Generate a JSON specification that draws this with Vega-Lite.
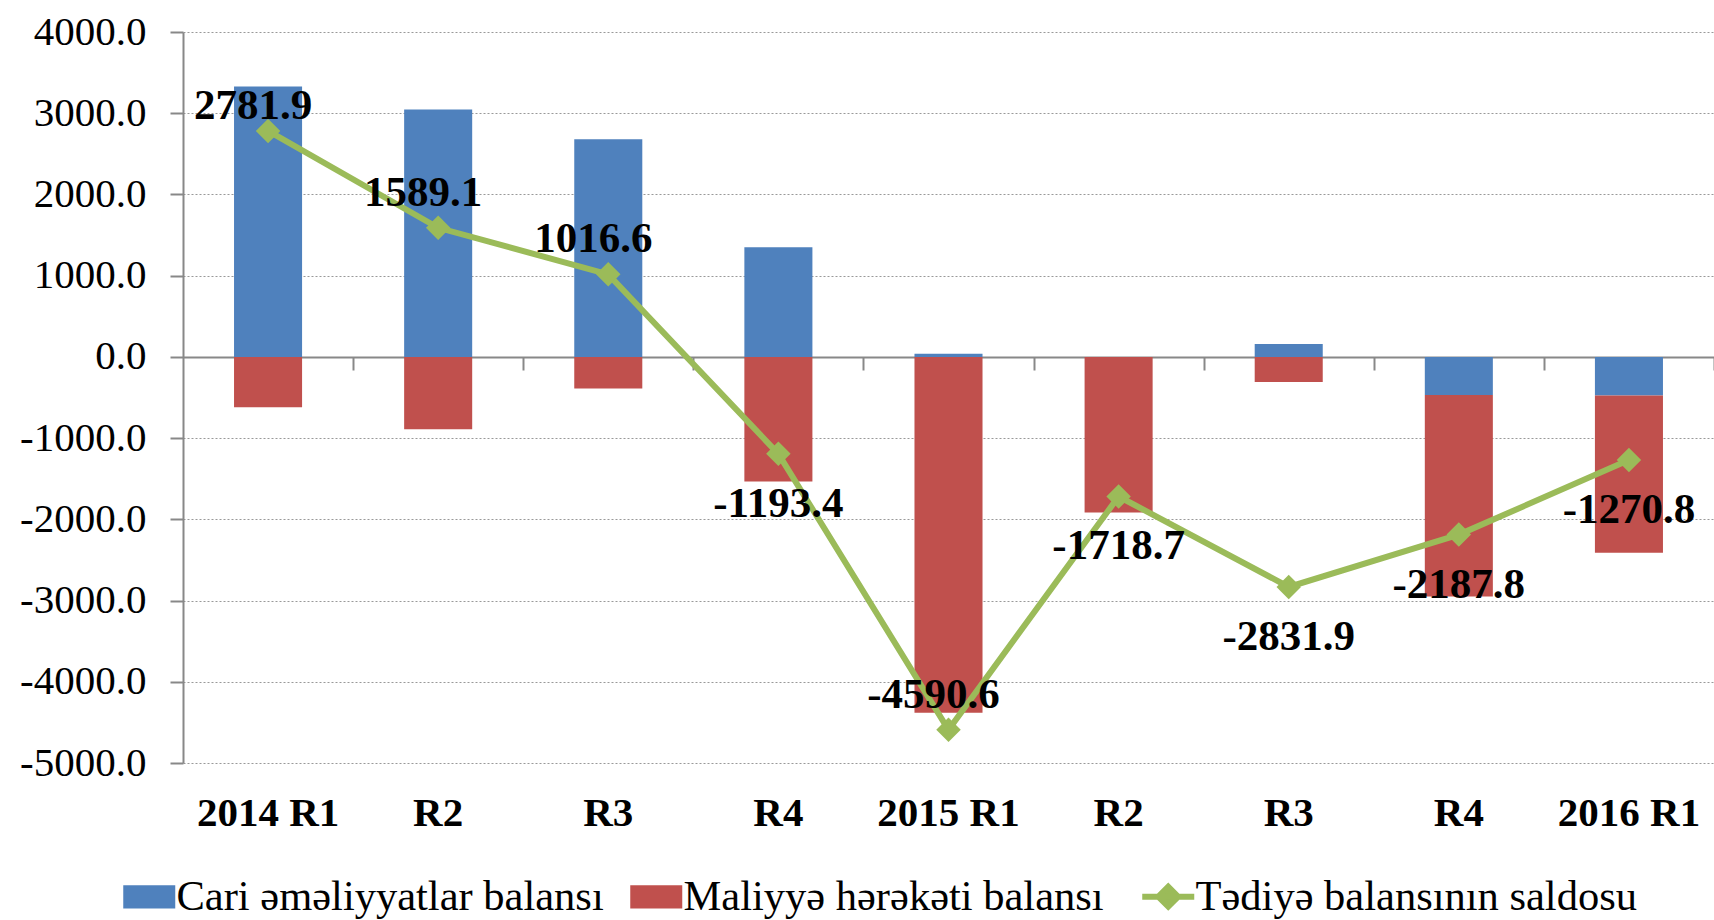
{
  "$schema": "https://vega.github.io/schema/vega-lite/v6.json",
  "autosize": {"type": "none"},
  "width": 1531,
  "height": 731,
  "padding": {"left": 183, "top": 32, "right": 0, "bottom": 157},
  "background": "white",
  "config": {
    "view": {"stroke": null},
    "font": "Liberation Serif",
    "locale": {"number": {"decimal": ".", "thousands": ",", "grouping": [3], "currency": ["$", ""], "minus": "-"}}
  },
  "datasets": {
    "bars": [
      {"q": "2014 R1", "series": "Cari əməliyyatlar balansı", "value": 3330},
      {"q": "2014 R2", "series": "Cari əməliyyatlar balansı", "value": 3045},
      {"q": "2014 R3", "series": "Cari əməliyyatlar balansı", "value": 2680},
      {"q": "2014 R4", "series": "Cari əməliyyatlar balansı", "value": 1350},
      {"q": "2015 R1", "series": "Cari əməliyyatlar balansı", "value": 40},
      {"q": "2015 R2", "series": "Cari əməliyyatlar balansı", "value": 0},
      {"q": "2015 R3", "series": "Cari əməliyyatlar balansı", "value": 160},
      {"q": "2015 R4", "series": "Cari əməliyyatlar balansı", "value": -470},
      {"q": "2016 R1", "series": "Cari əməliyyatlar balansı", "value": -475},
      {"q": "2014 R1", "series": "Maliyyə hərəkəti balansı", "value": -620},
      {"q": "2014 R2", "series": "Maliyyə hərəkəti balansı", "value": -890},
      {"q": "2014 R3", "series": "Maliyyə hərəkəti balansı", "value": -390},
      {"q": "2014 R4", "series": "Maliyyə hərəkəti balansı", "value": -1535},
      {"q": "2015 R1", "series": "Maliyyə hərəkəti balansı", "value": -4380},
      {"q": "2015 R2", "series": "Maliyyə hərəkəti balansı", "value": -1915},
      {"q": "2015 R3", "series": "Maliyyə hərəkəti balansı", "value": -310},
      {"q": "2015 R4", "series": "Maliyyə hərəkəti balansı", "value": -2480},
      {"q": "2016 R1", "series": "Maliyyə hərəkəti balansı", "value": -1937}
    ],
    "line": [
      {"q": "2014 R1", "saldo": 2781.9},
      {"q": "2014 R2", "saldo": 1589.1},
      {"q": "2014 R3", "saldo": 1016.6},
      {"q": "2014 R4", "saldo": -1193.4},
      {"q": "2015 R1", "saldo": -4590.6},
      {"q": "2015 R2", "saldo": -1718.7},
      {"q": "2015 R3", "saldo": -2831.9},
      {"q": "2015 R4", "saldo": -2187.8},
      {"q": "2016 R1", "saldo": -1270.8}
    ]
  },
  "resolve": {"axis": {"x": "independent"}},
  "layer": [
    {
      "data": {"name": "bars"},
      "mark": {"type": "bar"},
      "encoding": {
        "x": {
          "field": "q", "type": "nominal", "sort": null,
          "scale": {"paddingInner": 0.6, "paddingOuter": 0.3},
          "axis": {
            "title": null, "orient": "bottom", "domain": false, "ticks": false, "grid": false,
            "labelAngle": 0, "labelFont": "Liberation Serif", "labelFontSize": 41, "labelFontWeight": "bold",
            "labelColor": "black", "labelPadding": 30,
            "labelExpr": "slice(datum.value, 5) == 'R1' ? datum.value : slice(datum.value, 5)"
          }
        },
        "y": {
          "field": "value", "type": "quantitative", "stack": "zero",
          "scale": {"domain": [-5000, 4000], "nice": false, "zero": false},
          "axis": {
            "title": null, "values": [-5000, -4000, -3000, -2000, -1000, 0, 1000, 2000, 3000, 4000],
            "format": ".1f", "labelFont": "Liberation Serif", "labelFontSize": 41, "labelColor": "black",
            "labelPadding": 24, "tickSize": 13, "tickColor": "#888888", "tickWidth": 2,
            "domainColor": "#888888", "domainWidth": 2,
            "grid": true, "gridColor": "#999999", "gridDash": [2, 2], "gridWidth": 1
          }
        },
        "color": {
          "field": "series", "type": "nominal",
          "scale": {
            "domain": ["Cari əməliyyatlar balansı", "Maliyyə hərəkəti balansı", "Tədiyə balansının saldosu"],
            "range": ["#4F81BD", "#C0504D", "#9BBB59"]
          },
          "legend": {
            "title": null, "orient": "none", "direction": "horizontal", "legendX": -55, "legendY": 843,
            "labelFont": "Liberation Serif", "labelFontSize": 42.5, "labelColor": "black", "labelOffset": 6,
            "columnPadding": 26, "symbolSize": 2704, "labelLimit": 1000,
            "encode": {
              "symbols": {
                "update": {
                  "shape": {"signal": "datum.value === 'Tədiyə balansının saldosu' ? 'M-1,0L1,0M-0.38,0L0,-0.38L0.38,0L0,0.38Z' : 'M-1,-0.45H1V0.45H-1Z'"},
                  "fill": {"signal": "scale('color', datum.value)"},
                  "stroke": {"signal": "scale('color', datum.value)"},
                  "strokeWidth": {"signal": "datum.value === 'Tədiyə balansının saldosu' ? 6 : 0"},
                  "opacity": {"value": 1},
                  "fillOpacity": {"value": 1}
                }
              }
            }
          }
        },
        "order": {"field": "series", "sort": "ascending"}
      }
    },
    {
      "data": {"name": "line"},
      "mark": {"type": "line", "strokeWidth": 6, "point": {"shape": "diamond", "size": 600, "filled": true, "opacity": 1}},
      "encoding": {
        "x": {
          "field": "q", "type": "nominal", "sort": null,
          "axis": {
            "title": null, "orient": "bottom", "offset": -406, "labels": false, "grid": false,
            "domain": true, "domainColor": "#888888", "domainWidth": 2,
            "ticks": true, "tickOffset": 85, "tickSize": 13, "tickColor": "#888888", "tickWidth": 2,
            "zindex": 0
          }
        },
        "y": {"field": "saldo", "type": "quantitative"},
        "color": {"datum": "Tədiyə balansının saldosu"}
      }
    },
    {
      "data": {"name": "line"},
      "transform": [{"filter": "datum.q == '2014 R1'"}],
      "mark": {"type": "text", "font": "Liberation Serif", "fontSize": 43, "fontWeight": "bold", "color": "black", "dx": -15, "dy": -25, "baseline": "middle"},
      "encoding": {
        "x": {"field": "q", "type": "nominal", "sort": null, "axis": null},
        "y": {"field": "saldo", "type": "quantitative"},
        "text": {"field": "saldo", "type": "quantitative", "format": ".1f"}
      }
    },
    {
      "data": {"name": "line"},
      "transform": [{"filter": "datum.q == '2014 R2' || datum.q == '2014 R3' || datum.q == '2015 R1'"}],
      "mark": {"type": "text", "font": "Liberation Serif", "fontSize": 43, "fontWeight": "bold", "color": "black", "dx": -15, "dy": -35, "baseline": "middle"},
      "encoding": {
        "x": {"field": "q", "type": "nominal", "sort": null, "axis": null},
        "y": {"field": "saldo", "type": "quantitative"},
        "text": {"field": "saldo", "type": "quantitative", "format": ".1f"}
      }
    },
    {
      "data": {"name": "line"},
      "transform": [{"filter": "datum.q == '2014 R4' || datum.q == '2015 R2' || datum.q == '2015 R3' || datum.q == '2015 R4' || datum.q == '2016 R1'"}],
      "mark": {"type": "text", "font": "Liberation Serif", "fontSize": 43, "fontWeight": "bold", "color": "black", "dx": 0, "dy": 50, "baseline": "middle"},
      "encoding": {
        "x": {"field": "q", "type": "nominal", "sort": null, "axis": null},
        "y": {"field": "saldo", "type": "quantitative"},
        "text": {"field": "saldo", "type": "quantitative", "format": ".1f"}
      }
    }
  ]
}
